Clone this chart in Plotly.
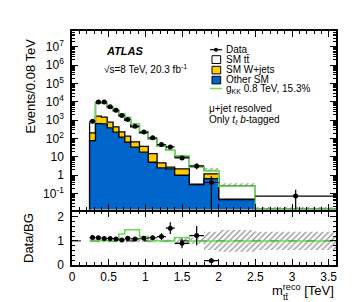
import numpy as np
import plotly.graph_objects as go

# ---------------- data ----------------
edges = [0.24, 0.32, 0.40, 0.48, 0.56, 0.64, 0.72, 0.80, 0.92, 1.04, 1.16,
         1.28, 1.40, 1.60, 1.80, 2.00, 2.50, 3.60]
other_sm = [78, 660, 630, 380, 224, 120, 63, 34, 18, 5.1, 2.5, 2.2, 1.0,
            0.31, 0.65, 0.047, 0.010]
wjets = [126, 1010, 850, 410, 216, 113, 72, 32, 20, 9.9, 2.2, 0.6, 1.2,
         0.02, 0.55, 0.003, 0.001]
ttbar = [586, 7030, 7420, 4110, 2860, 1527, 865, 374, 167, 82, 35, 20, 7.8,
         2.4, 0.6, 0.2, 0.003]
data = [890, 9800, 9900, 5400, 3550, 1830, 1100, 475, 225, 110, 47, 35, 8.8,
        3.2, 0.4, None, 0.073]
data_err_up = [30, 100, 100, 75, 60, 40, 30, 17, 12, 8.5, 5.5, 4.9, 1.9,
               1.1, 0.52, None, 0.09]
data_err_dn = [30, 100, 100, 75, 60, 40, 30, 17, 12, 8.5, 5.5, 4.9, 1.9,
               1.1, 0.399, None, 0.0729]
ratio = [1.14, 1.13, 1.10, 1.10, 1.08, 1.04, 1.11, 1.08, 1.11, 1.13, 1.18,
         1.53, 0.90, 1.22, 0.18, None, None]
ratio_err = [0.04, 0.02, 0.02, 0.02, 0.02, 0.03, 0.03, 0.04, 0.06, 0.08,
             0.14, 0.24, 0.20, 0.40, 0.10, None, None]
gkk_ratio = [1.0, 1.01, 1.01, 1.01, 1.02, 1.29, 1.46, 1.46, 1.18, 1.02, 1.0,
             1.0, 1.14, 1.0, 1.0, 1.0, 1.0]
bg_rel_err = [0.06, 0.06, 0.06, 0.06, 0.06, 0.06, 0.06, 0.06, 0.06, 0.06,
              0.06, 0.06, 0.15, 0.12, 0.38, 0.45, 0.38]

x_ticks = [0, 0.5, 1, 1.5, 2, 2.5, 3, 3.5]
y_ticks = [0.1, 1, 10, 1e2, 1e3, 1e4, 1e5, 1e6, 1e7]
y_ticktext = ["10<sup>-1</sup>", "1", "10", "10<sup>2</sup>", "10<sup>3</sup>",
              "10<sup>4</sup>", "10<sup>5</sup>", "10<sup>6</sup>", "10<sup>7</sup>"]

# ---------------- helpers ----------------
e = np.array(edges)
centers = (e[:-1] + e[1:]) / 2
half = (e[1:] - e[:-1]) / 2
blue_top = np.array(other_sm)
yellow_top = blue_top + np.array(wjets)
total = yellow_top + np.array(ttbar)
BOTTOM = 1e-3


def step_xy(vals, base=None):
    xs, ys = [], []
    if base is not None:
        xs.append(edges[0]); ys.append(base)
    for i, v in enumerate(vals):
        xs += [edges[i], edges[i + 1]]
        ys += [v, v]
    if base is not None:
        xs.append(edges[-1]); ys.append(base)
    return xs, ys


def band_xy(lo, hi):
    xu, yu = step_xy(hi)
    xl, yl = step_xy(lo)
    return xu + xl[::-1] + [xu[0]], yu + yl[::-1] + [yu[0]]


L, R, T, B = 64, 29, 23, 45
W, H = 357, 302
PW, PH = W - L - R, H - T - B


def px(x):
    return (x - L) / PW


def py(y):
    return (H - B - y) / PH


FONT = "Liberation Sans, Arial, Helvetica, sans-serif"
BLUE = "#0066cc"
YELLOW = "#ffcc00"
GREEN = "#66dd55"
HATCH = dict(shape="/", fgcolor="#222222", bgcolor="white", size=4, solidity=0.3)

fig = go.Figure()

# main: uncertainty band (behind stack)
rel = np.array(bg_rel_err)
bx, by = band_xy(list(total * (1 - rel)), list(total * (1 + rel)))
fig.add_trace(go.Scatter(x=bx, y=by, mode="lines", fill="toself",
                         line=dict(width=0, color="rgba(0,0,0,0)"),
                         fillcolor="rgba(0,0,0,0)", fillpattern=HATCH,
                         hoverinfo="skip", xaxis="x", yaxis="y"))
# stack
for vals, col in [(total, "white"), (yellow_top, YELLOW), (blue_top, BLUE)]:
    sx, sy = step_xy(list(vals), BOTTOM)
    fig.add_trace(go.Scatter(x=sx, y=sy, mode="lines", fill="toself",
                             fillcolor=col, line=dict(color="black", width=1.3),
                             hoverinfo="skip", xaxis="x", yaxis="y"))
# signal
gx, gy = step_xy(list(total * np.array(gkk_ratio)))
fig.add_trace(go.Scatter(x=gx, y=gy, mode="lines", line=dict(color=GREEN, width=1.5),
                         hoverinfo="skip", xaxis="x", yaxis="y"))
# data
fig.add_trace(go.Scatter(x=list(centers), y=data, mode="markers",
                         marker=dict(color="black", size=5),
                         error_x=dict(type="data", array=list(half), color="black",
                                      thickness=1.2, width=0),
                         error_y=dict(type="data", array=data_err_up, arrayminus=data_err_dn,
                                      symmetric=False, color="black", thickness=1.2, width=0),
                         xaxis="x", yaxis="y"))

# ratio panel
rb = np.array(bg_rel_err)
rx, ry = band_xy(list(1 - rb), list(1 + rb))
fig.add_trace(go.Scatter(x=rx, y=ry, mode="lines", fill="toself",
                         line=dict(width=0, color="rgba(0,0,0,0)"),
                         fillcolor="rgba(0,0,0,0)", fillpattern=HATCH,
                         hoverinfo="skip", xaxis="x2", yaxis="y2"))
fig.add_trace(go.Scatter(x=[0, 3.6], y=[1, 1], mode="lines",
                         line=dict(color="black", width=1, dash="dash"),
                         hoverinfo="skip", xaxis="x2", yaxis="y2"))
grx, gry = step_xy(gkk_ratio)
fig.add_trace(go.Scatter(x=grx, y=gry, mode="lines", line=dict(color=GREEN, width=1.5),
                         hoverinfo="skip", xaxis="x2", yaxis="y2"))
fig.add_trace(go.Scatter(x=list(centers), y=ratio, mode="markers",
                         marker=dict(color="black", size=5),
                         error_x=dict(type="data", array=list(half), color="black",
                                      thickness=1.2, width=0),
                         error_y=dict(type="data", array=ratio_err, color="black",
                                      thickness=1.2, width=0),
                         xaxis="x2", yaxis="y2"))

axis_common = dict(showline=True, linecolor="black", linewidth=1.5, mirror="allticks",
                   ticks="inside", tickcolor="black", ticklen=6, tickwidth=1,
                   showgrid=False, zeroline=False,
                   tickfont=dict(family=FONT, size=12, color="black"))

minor_log = [k * 10.0 ** d for d in range(-2, 8) for k in range(2, 10)]

main_bottom = py(201.5)
ratio_top = py(203.5)

fig.update_layout(
    width=W, height=H, margin=dict(l=L, r=R, t=T, b=B),
    paper_bgcolor="white", plot_bgcolor="white", showlegend=False,
    xaxis=dict(axis_common, domain=[0, 1], range=[0, 3.6], anchor="y",
               tickvals=x_ticks, showticklabels=False,
               minor=dict(dtick=0.1, ticks="inside", ticklen=3, tickcolor="black")),
    yaxis=dict(axis_common, domain=[main_bottom, 1], type="log", range=[-1.87, 7.87],
               anchor="x", tickvals=y_ticks, ticktext=y_ticktext, ticklabelstandoff=4,
               minor=dict(tickvals=minor_log, ticks="inside", ticklen=3, tickcolor="black")),
    xaxis2=dict(axis_common, domain=[0, 1], range=[0, 3.6], anchor="y2",
                tickvals=x_ticks,
                minor=dict(dtick=0.1, ticks="inside", ticklen=3, tickcolor="black")),
    yaxis2=dict(axis_common, domain=[0, ratio_top], range=[0, 2.22], anchor="x2",
                tickvals=[0, 1, 2], ticklabelstandoff=4,
                minor=dict(dtick=0.2, ticks="inside", ticklen=3, tickcolor="black")),
)

ann = []


def text(x, y, s, size=10, xanchor="left", angle=0):
    ann.append(dict(x=px(x), y=py(y), xref="paper", yref="paper", text=s,
                    showarrow=False, xanchor=xanchor, yanchor="middle",
                    textangle=angle, font=dict(family=FONT, size=size, color="black")))


text(96, 43, "<b><i>ATLAS</i></b>", size=11)
text(94, 61.5, "\u221as=8 TeV, 20.3 fb<sup>-1</sup>", size=10)
text(216, 41.7, "Data")
text(216, 51.7, "SM tt\u0304")
text(216, 61.7, "SM W+jets")
text(216, 71.5, "Other SM")
text(216, 81, "g<sub>KK</sub> 0.8 TeV, 15.3%")
text(199, 100, "\u03bc+jet resolved")
text(199, 111.7, "Only <i>t<sub>\u2113</sub></i> <i>b</i>-tagged")
text(21.5, 78, "Events/0.08 TeV", size=13, xanchor="center", angle=-90)
text(20, 230, "Data/BG", size=13, xanchor="center", angle=-90)
text(328, 282, "m<sup>reco</sup> [TeV]", size=13, xanchor="right")
text(272.5, 289, "tt\u0304", size=9)

shapes = []


def box(x0, y0, x1, y1, col):
    shapes.append(dict(type="rect", xref="paper", yref="paper", x0=px(x0), x1=px(x1),
                       y0=py(y1), y1=py(y0), fillcolor=col,
                       line=dict(color="black", width=1)))


box(204, 47.7, 212.7, 55.5, "white")
box(204, 58.3, 212.7, 65.9, YELLOW)
box(204, 68.3, 212.7, 75.9, BLUE)
shapes.append(dict(type="line", xref="paper", yref="paper", x0=px(202), x1=px(214),
                   y0=py(41.7), y1=py(41.7), line=dict(color="black", width=1.2)))
shapes.append(dict(type="circle", xref="paper", yref="paper", x0=px(206), x1=px(210),
                   y0=py(43.7), y1=py(39.7), fillcolor="black",
                   line=dict(color="black", width=0)))
shapes.append(dict(type="line", xref="paper", yref="paper", x0=px(202), x1=px(214),
                   y0=py(80.5), y1=py(80.5), line=dict(color=GREEN, width=1.5)))

fig.update_layout(annotations=ann, shapes=shapes)
fig.write_html("out.html")
